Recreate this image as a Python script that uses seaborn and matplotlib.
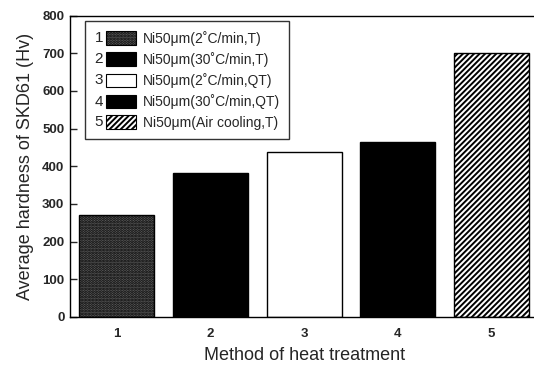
import matplotlib
matplotlib.use("Agg")
import matplotlib.pyplot as plt
import seaborn as sns
import pandas as pd
from matplotlib.patches import Rectangle
from matplotlib.text import Text
from matplotlib.legend_handler import HandlerBase

methods = ["1", "2", "3", "4", "5"]
hardness = [270, 383, 438, 463, 700]
legend_labels = [
    "Ni50\u03bcm(2\u02daC/min,T)",
    "Ni50\u03bcm(30\u02daC/min,T)",
    "Ni50\u03bcm(2\u02daC/min,QT)",
    "Ni50\u03bcm(30\u02daC/min,QT)",
    "Ni50\u03bcm(Air cooling,T)",
]
y_ticks = [0, 100, 200, 300, 400, 500, 600, 700, 800]

face_colors = ["#606060", "black", "white", "black", "white"]
hatches = ["......", None, None, None, "//////"]

sns.set_theme(style="ticks")
plt.rcParams["font.family"] = ["Liberation Sans", "DejaVu Sans"]
plt.rcParams["hatch.linewidth"] = 1.4

df = pd.DataFrame({"method": methods, "hardness": hardness})

fig = plt.figure(figsize=(5.34, 3.71), dpi=100)
ax = fig.add_axes([0.131, 0.146, 0.877, 0.812])

sns.barplot(data=df, x="method", y="hardness", hue="method",
            palette=face_colors, edgecolor="black", linewidth=1.0,
            width=0.8, legend=False, ax=ax, saturation=1)

for p, h in zip(ax.patches, hatches):
    if h:
        p.set_hatch(h)

ax.set_xlim(-0.5, 4.5)
ax.set_ylim(0, 800)
ax.set_yticks(y_ticks)
ax.set_yticklabels([str(v) for v in y_ticks], fontweight="bold", fontsize=9.5)
ax.set_xticks(range(len(methods)))
ax.set_xticklabels(methods, fontweight="bold", fontsize=9.5)
ax.tick_params(axis="y", direction="in", length=5, width=1, pad=4)
ax.tick_params(axis="x", direction="in", length=0, pad=8)
ax.set_xlabel("Method of heat treatment", fontsize=13, labelpad=5)
ax.set_ylabel("Average hardness of SKD61 (Hv)", fontsize=13, labelpad=6)
for s in ax.spines.values():
    s.set_linewidth(1.0)
    s.set_color("black")


class NumberedHandler(HandlerBase):
    def __init__(self, number):
        super().__init__()
        self.number = number

    def create_artists(self, legend, orig_handle, xdescent, ydescent,
                       width, height, fontsize, trans):
        t = Text(x=-xdescent, y=-ydescent + height / 2, text=self.number,
                 fontsize=fontsize + 1, va="center", ha="left",
                 family=["Liberation Sans", "DejaVu Sans"], transform=trans)
        r = Rectangle((-xdescent + width * 0.27, -ydescent - height * 0.2),
                      width * 0.73, height * 1.4,
                      facecolor=orig_handle.get_facecolor(),
                      edgecolor="black", hatch=orig_handle.get_hatch(),
                      linewidth=0.8, transform=trans)
        return [t, r]


handles = []
for c, h in zip(face_colors, hatches):
    handles.append(Rectangle((0, 0), 1, 1, facecolor=c, edgecolor="black", hatch=h))

leg = ax.legend(handles, legend_labels, loc="upper left",
                bbox_to_anchor=(0.032, 0.982), borderaxespad=0, fontsize=10,
                frameon=True, fancybox=False, edgecolor="black",
                handlelength=3.0, handletextpad=0.45, labelspacing=0.45,
                borderpad=0.7,
                handler_map={h: NumberedHandler(n) for h, n in zip(handles, methods)})
leg.get_frame().set_linewidth(1.0)

fig.savefig("out.png", dpi=100)
